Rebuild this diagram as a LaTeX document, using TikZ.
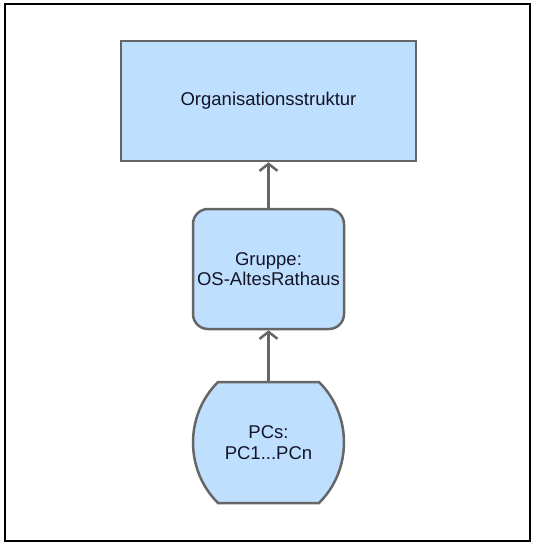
\documentclass[tikz,border=0pt]{standalone}
\usepackage{fontspec}
\setmainfont{Liberation Sans}
\usetikzlibrary{arrows.meta,calc}
\definecolor{boxfill}{RGB}{191,223,255}
\definecolor{boxline}{RGB}{102,102,102}
\definecolor{txt}{RGB}{20,20,40}
\tikzset{
  x=1pt, y=-1pt,
  box/.style={draw=boxline, fill=boxfill, line width=2.5pt, inner sep=0pt, align=center,
    text=txt, font=\fontsize{18.5}{20.5}\selectfont},
  grpbox/.style={box, rounded corners=15pt},
  barrelnode/.style={inner sep=0pt, align=center, text=txt, font=\fontsize{18.5}{20.5}\selectfont,
    minimum width=151pt, minimum height=121pt},
  barrelline/.style={draw=boxline, fill=boxfill, line width=2.5pt},
  conn/.style={draw=boxline, line width=2.5pt, -{Straight Barb[length=7pt,width=18pt]}},
  frame/.style={draw=black, line width=1.5pt}
}
\begin{document}
\begin{tikzpicture}
\useasboundingbox (0,0) rectangle (536,547);
\draw[frame] (5,4) rectangle (530,541);
\node[box, minimum width=295pt, minimum height=120pt] (org) at (268.5,101) {Organisationsstruktur};
\node[grpbox, minimum width=151pt, minimum height=120pt] (grp) at (268.5,269) {Gruppe:\\OS-AltesRathaus};
\coordinate (pcc) at (268.5,442.5);
\path[barrelline]
  ($(pcc)+(-50.5,-60.5)$) -- ($(pcc)+(50.5,-60.5)$)
  .. controls ($(pcc)+(83.8,-27.5)$) and ($(pcc)+(83.8,27.5)$) .. ($(pcc)+(50.5,60.5)$)
  -- ($(pcc)+(-50.5,60.5)$)
  .. controls ($(pcc)+(-83.8,27.5)$) and ($(pcc)+(-83.8,-27.5)$) .. cycle;
\node[barrelnode] (pcs) at (pcc) {PCs:\\PC1...PCn};
\draw[conn] (grp.north) -- (org.south);
\draw[conn] (pcs.north) -- (grp.south);
\end{tikzpicture}
\end{document}
